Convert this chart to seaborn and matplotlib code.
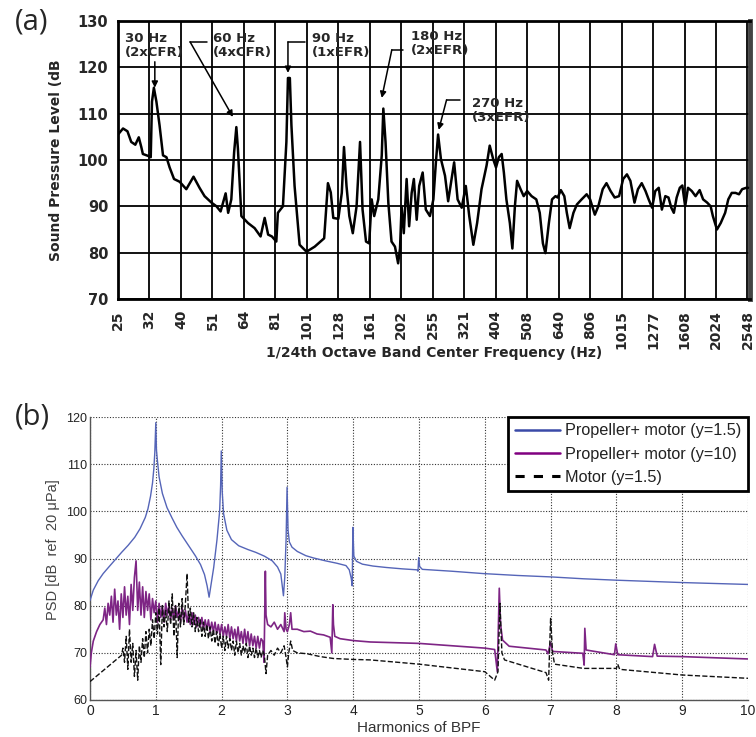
import numpy as np
import pandas as pd
import matplotlib
matplotlib.use("Agg")
import matplotlib.pyplot as plt
import seaborn as sns
from matplotlib.lines import Line2D

# ---------------- Panel (a) data ----------------
band_labels = ['25', '32', '40', '51', '64', '81', '101', '128', '161', '202', '255',
               '321', '404', '508', '640', '806', '1015', '1277', '1608', '2024', '2548']
spl_ticks = [70, 80, 90, 100, 110, 120, 130]

# position in 1/3-octave tick units (0 = 25 Hz, 20 = 2548 Hz)
a_pos = [0.00, 0.16, 0.30, 0.42, 0.55, 0.66, 0.74, 0.79, 0.95, 1.04,
         1.08, 1.14, 1.22, 1.32, 1.43, 1.54, 1.64, 1.78, 1.96, 2.17,
         2.40, 2.59, 2.75, 2.97, 3.13, 3.26, 3.42, 3.50, 3.60, 3.69,
         3.76, 3.81, 3.87, 3.92, 4.13, 4.34, 4.53, 4.66, 4.77, 4.89,
         5.03, 5.08, 5.24, 5.35, 5.40, 5.46, 5.51, 5.61, 5.77, 5.99,
         6.25, 6.55, 6.67, 6.76, 6.84, 7.00, 7.11, 7.18, 7.26, 7.35,
         7.46, 7.58, 7.69, 7.77, 7.88, 7.98, 8.06, 8.14, 8.27, 8.38,
         8.43, 8.50, 8.59, 8.69, 8.80, 8.90, 8.96, 9.01, 9.08, 9.17,
         9.25, 9.33, 9.40, 9.49, 9.57, 9.68, 9.78, 9.91, 10.02, 10.10,
         10.17, 10.26, 10.39, 10.49, 10.60, 10.68, 10.79, 10.92, 11.05, 11.16,
         11.29, 11.41, 11.55, 11.71, 11.81, 11.92, 12.01, 12.10, 12.19, 12.26,
         12.34, 12.45, 12.53, 12.61, 12.68, 12.79, 12.89, 13.00, 13.14, 13.29,
         13.40, 13.50, 13.58, 13.69, 13.79, 13.90, 13.97, 14.07, 14.18, 14.26,
         14.35, 14.47, 14.58, 14.73, 14.89, 15.00, 15.15, 15.26, 15.40, 15.52,
         15.65, 15.78, 15.92, 16.05, 16.17, 16.28, 16.41, 16.52, 16.64, 16.76,
         16.86, 16.97, 17.07, 17.18, 17.28, 17.39, 17.49, 17.58, 17.66, 17.75,
         17.85, 17.93, 18.02, 18.11, 18.23, 18.35, 18.48, 18.59, 18.72, 18.83,
         18.90, 19.03, 19.15, 19.29, 19.39, 19.50, 19.62, 19.73, 19.83, 19.96,
         20.02]
a_db = [105.5, 106.8, 106.2, 103.9, 103.3, 104.9, 102.8, 101.3, 100.9, 100.6,
        112.6, 115.6, 112.6, 107.5, 101.0, 100.6, 98.4, 95.9, 95.3, 93.7,
        96.4, 94.0, 92.2, 90.8, 90.0, 88.9, 92.8, 88.6, 91.5, 101.7,
        107.1, 102.4, 94.4, 87.9, 86.4, 85.3, 83.5, 87.5, 83.9, 83.5,
        82.4, 88.6, 90.0, 103.9, 117.7, 117.7, 107.5, 94.4, 81.7, 80.2,
        81.3, 83.1, 95.0, 93.0, 87.5, 87.3, 92.9, 102.8, 94.4, 87.9,
        84.2, 90.0, 103.9, 89.3, 82.4, 82.0, 91.5, 87.9, 91.5, 101.0,
        111.1, 103.9, 90.7, 82.4, 81.3, 77.7, 80.9, 90.0, 84.2, 95.9,
        85.7, 92.9, 95.9, 87.1, 94.4, 97.3, 89.3, 87.9, 91.5, 99.5,
        105.5, 100.2, 96.6, 91.1, 95.9, 99.5, 91.5, 89.7, 94.4, 87.9,
        81.7, 86.4, 93.7, 98.8, 103.1, 100.2, 98.4, 100.6, 101.3, 97.3,
        91.5, 86.4, 80.9, 90.0, 95.5, 93.7, 92.2, 93.3, 92.2, 91.5,
        88.6, 82.0, 79.9, 86.4, 91.5, 92.2, 91.9, 93.5, 92.2, 88.6,
        85.3, 88.6, 90.4, 91.5, 92.6, 91.5, 88.2, 90.0, 93.7, 95.0,
        93.3, 91.9, 92.2, 95.9, 96.9, 95.5, 90.8, 93.7, 95.0, 93.3,
        91.5, 89.7, 93.3, 94.0, 89.3, 92.2, 91.9, 89.7, 88.6, 91.9,
        94.0, 94.5, 90.0, 94.0, 93.3, 92.2, 93.5, 91.5, 90.8, 90.0,
        87.9, 85.0, 86.4, 88.6, 91.5, 92.9, 92.9, 92.6, 93.7, 94.0,
        94.0]

annot_texts = ['30 Hz\n(2xCFR)', '60 Hz\n(4xCFR)', '90 Hz\n(1xEFR)',
               '180 Hz\n(2xEFR)', '270 Hz\n(3xEFR)']

# ---------------- Panel (b) data ----------------
bpf_ticks = list(range(11))
psd_ticks = [60, 70, 80, 90, 100, 110, 120]

blue_x = [0.00, 0.05, 0.125, 0.20, 0.28, 0.38, 0.48, 0.58, 0.68, 0.76,
          0.84, 0.88, 0.92, 0.95, 0.97, 0.985, 1.00, 1.01, 1.025, 1.05,
          1.10, 1.17, 1.25, 1.32, 1.40, 1.50, 1.60, 1.68, 1.74, 1.78,
          1.81, 1.84, 1.88, 1.93, 1.97, 1.985, 1.995, 2.01, 2.03, 2.08,
          2.15, 2.26, 2.40, 2.52, 2.65, 2.77, 2.85, 2.90, 2.94, 2.96,
          2.98, 2.995, 3.01, 3.03, 3.07, 3.15, 3.28, 3.40, 3.58, 3.75,
          3.89, 3.94, 3.97, 3.985, 3.995, 4.01, 4.05, 4.14, 4.30, 4.50,
          4.75, 4.97, 4.985, 4.995, 5.01, 5.05, 5.50, 5.98, 6.50, 7.00,
          7.50, 8.00, 9.00, 10.00]
blue_y = [81.1, 83.3, 85.3, 86.8, 88.1, 89.7, 91.3, 92.8, 94.5, 96.3,
          98.7, 100.5, 103.2, 106.0, 109.0, 112.5, 118.8, 113.0, 110.7, 107.3,
          103.8, 100.8, 98.5, 96.6, 94.8, 92.7, 90.6, 88.7, 86.6, 84.2,
          81.8, 84.5, 88.1, 94.0, 100.0, 105.5, 112.8, 104.0, 99.5, 96.0,
          94.0, 92.7, 91.9, 91.3, 90.5, 89.5, 88.2, 86.7, 82.1, 86.0,
          94.0, 105.1, 96.0, 93.5, 92.4, 91.5, 90.6, 90.1, 89.5, 89.0,
          88.5, 87.6, 85.8, 84.2, 96.6, 90.5, 89.4, 88.8, 88.4, 88.1,
          87.8, 87.6, 87.3, 90.2, 88.3, 87.7, 87.3, 86.8, 86.4, 86.1,
          85.7, 85.4, 84.9, 84.5]

purple_head_x = [0.00, 0.02, 0.05, 0.10, 0.15]
purple_head_y = [67.0, 70.0, 72.5, 74.5, 76.0]
purple_noise_start, purple_noise_step = 0.20, 0.025
purple_noise_y = [77.0, 79.5, 76.0, 80.5, 78.0, 82.0, 76.5, 83.5, 78.0, 81.0,
                  75.0, 82.5, 77.5, 84.0, 78.0, 82.0, 76.0, 84.5, 79.0, 86.0,
                  89.5, 79.0, 85.0, 78.0, 84.0, 77.5, 83.0, 79.0, 82.5, 77.0,
                  81.5, 78.5, 81.0, 76.5, 80.5, 77.5, 80.0, 76.5, 80.5, 78.0,
                  80.0, 77.0, 79.5, 77.0, 80.0, 77.5, 79.0, 76.5, 79.5, 77.0,
                  79.0, 76.5, 78.5, 76.0, 78.5, 76.0, 78.0, 75.5, 77.5, 75.5,
                  77.5, 75.0, 77.0, 75.0, 77.0, 74.5, 76.5, 74.5, 76.5, 74.0,
                  76.0, 74.0, 76.0, 73.5, 75.5, 73.5, 76.0, 73.0, 75.5, 73.0,
                  75.0, 72.5, 75.5, 72.5, 74.5, 72.0, 75.0, 72.0, 74.5, 71.5,
                  74.0, 71.5, 73.5, 71.0, 73.5, 71.0, 73.0]
purple_tail_x = [2.625, 2.645, 2.665, 2.675, 2.70, 2.75, 2.80, 2.85, 2.90, 2.95,
                 2.96, 2.98, 3.00, 3.03, 3.05, 3.07, 3.15, 3.25, 3.35, 3.45,
                 3.55, 3.65, 3.675, 3.69, 3.70, 3.72, 3.80, 4.00, 4.26, 5.00,
                 6.00, 6.15, 6.19, 6.22, 6.24, 6.27, 6.37, 6.93, 6.96, 7.00,
                 7.03, 7.49, 7.51, 7.52, 7.54, 7.97, 7.99, 8.02, 8.55, 8.58,
                 8.62, 9.00, 10.00]
purple_tail_y = [72.5, 68.0, 87.3, 78.0, 76.0, 75.5, 76.5, 75.0, 76.0, 74.5,
                 78.5, 75.0, 74.5, 76.0, 78.5, 75.0, 75.0, 74.5, 74.6, 74.0,
                 73.8, 73.3, 70.0, 80.2, 76.0, 73.5, 73.0, 72.6, 72.3, 72.0,
                 71.0, 70.7, 66.0, 83.7, 76.0, 72.7, 71.4, 70.6, 69.8, 72.2,
                 70.3, 69.9, 67.4, 75.2, 70.6, 69.6, 71.9, 69.6, 69.2, 71.8,
                 69.3, 69.2, 68.7]

motor_head_x = [0.00, 0.48]
motor_head_y = [63.9, 69.5]
motor_noise_start, motor_noise_step = 0.50, 0.025
motor_noise_y = [71.0, 68.0, 73.5, 66.5, 75.0, 68.0, 72.0, 65.0, 70.5, 64.2,
                 71.5, 68.0, 73.0, 69.0, 74.5, 70.0, 75.0, 71.5, 77.0, 73.0,
                 78.5, 74.0, 79.5, 67.5, 80.0, 75.5, 79.0, 74.5, 81.0, 76.0,
                 82.5, 73.5, 80.0, 69.0, 80.5, 75.5, 81.5, 76.0, 80.5, 86.8,
                 76.5, 79.5, 75.5, 78.5, 74.5, 77.5, 74.5, 77.0, 73.5, 76.5,
                 73.5, 76.0, 73.0, 75.5, 72.5, 75.0, 72.0, 74.5, 71.5, 74.0,
                 71.0, 73.5, 70.5, 73.5, 71.0, 73.0, 70.5, 72.5, 69.5, 72.5,
                 70.0, 72.0, 69.5, 71.5, 70.0, 72.0, 69.0, 71.5, 69.5, 71.0,
                 69.0, 71.0, 69.0, 70.5, 69.0, 70.5, 69.5]
motor_tail_x = [2.675, 2.70, 2.75, 2.80, 2.85, 2.90, 2.95, 2.98, 3.00, 3.02,
                3.05, 3.08, 3.15, 3.30, 3.50, 3.70, 4.00, 4.26, 5.00, 6.00,
                6.15, 6.20, 6.23, 6.26, 6.30, 6.93, 6.97, 7.00, 7.03, 7.06,
                7.50, 8.00, 8.02, 8.05, 9.00, 10.00]
motor_tail_y = [65.6, 69.5, 70.5, 69.5, 71.0, 70.0, 71.5, 69.0, 67.0, 70.0,
                72.5, 70.5, 70.0, 69.8, 69.2, 68.8, 68.6, 68.5, 67.6, 66.0,
                64.2, 66.0, 80.5, 70.0, 68.5, 65.8, 64.2, 77.3, 70.0, 67.6,
                66.7, 66.7, 67.6, 66.5, 65.3, 64.6]

series_names = ['Propeller+ motor (y=1.5)', 'Propeller+ motor (y=10)', 'Motor (y=1.5)']

# ---------------- Figure ----------------
sns.set_theme(style='white')
plt.rcParams['font.family'] = ['DejaVu Sans']
W, H = 756, 737
fig = plt.figure(figsize=(W / 100, H / 100), dpi=100)

# ---- Panel (a) ----
axa = fig.add_axes([118 / W, 1 - 299 / H, 632 / W, 278 / H])
df_a = pd.DataFrame({'pos': a_pos, 'db': a_db})
sns.lineplot(data=df_a, x='pos', y='db', ax=axa, color='black', lw=1.8,
             sort=False, estimator=None, errorbar=None, zorder=3)
axa.set_xlim(0, 20.08)
axa.set_ylim(70, 130)
axa.set_xticks(range(len(band_labels)))
axa.set_xticklabels(band_labels, rotation=90, fontweight='bold', fontsize=10)
axa.set_yticks(spl_ticks)
axa.set_yticklabels([str(v) for v in spl_ticks], fontweight='bold', fontsize=10.5)
axa.grid(True, color='black', lw=1.3)
axa.set_axisbelow(True)
axa.tick_params(axis='x', length=0, pad=8)
axa.tick_params(axis='y', length=0, pad=7)
for s in ['left', 'bottom', 'top']:
    axa.spines[s].set_color('black')
    axa.spines[s].set_linewidth(2)
axa.spines['right'].set_color('#444444')
axa.spines['right'].set_linewidth(3.5)
axa.set_xlabel('1/24th Octave Band Center Frequency (Hz)', fontweight='bold', fontsize=10)
axa.xaxis.set_label_coords(0.5, -0.17)
axa.set_ylabel('Sound Pressure Level (dB', fontweight='bold', fontsize=10)
axa.yaxis.set_label_coords(-0.087, 0.5)

annot_xy = [(0.22, 127.7), (3.02, 127.7), (6.16, 127.7), (9.30, 128.1), (11.24, 113.6)]
annot_paths = [
    [(1.17, 121.2), (1.17, 115.6)],
    [(2.83, 125.5), (2.29, 125.5), (3.65, 109.3)],
    [(5.94, 125.5), (5.40, 125.5), (5.40, 118.8)],
    [(9.05, 123.8), (8.70, 123.8), (8.38, 113.4)],
    [(10.86, 113.0), (10.44, 113.0), (10.19, 106.5)],
]
for txt, (tx, ty), path in zip(annot_texts, annot_xy, annot_paths):
    axa.text(tx, ty, txt, ha='left', va='top', fontsize=9.5, fontweight='bold',
             linespacing=1.15, zorder=5)
    if len(path) > 2:
        xs = [p[0] for p in path[:-1]]
        ys = [p[1] for p in path[:-1]]
        axa.plot(xs, ys, color='black', lw=1.1, zorder=5)
    axa.annotate('', xy=path[-1], xytext=path[-2],
                 arrowprops=dict(arrowstyle='-|>', color='black', lw=1.1,
                                 mutation_scale=9, shrinkA=0, shrinkB=0), zorder=5)

fig.text(32 / W, 1 - 22 / H, '(a)', fontsize=21, family='Open Sans',
         ha='center', va='center')

# ---- Panel (b) ----
narrow = ['Liberation Sans Narrow', 'Liberation Sans', 'DejaVu Sans']
axb = fig.add_axes([90 / W, 1 - 700 / H, 658 / W, 283 / H])

purple_noise_x = list(purple_noise_start + purple_noise_step * np.arange(len(purple_noise_y)))
motor_noise_x = list(motor_noise_start + motor_noise_step * np.arange(len(motor_noise_y)))
df_blue = pd.DataFrame({'x': blue_x, 'y': blue_y})
df_purple = pd.DataFrame({'x': purple_head_x + purple_noise_x + purple_tail_x,
                          'y': purple_head_y + purple_noise_y + purple_tail_y})
df_motor = pd.DataFrame({'x': motor_head_x + motor_noise_x + motor_tail_x,
                         'y': motor_head_y + motor_noise_y + motor_tail_y})

c_blue, c_purple, c_black = '#5565b8', '#7e2585', '#111111'
sns.lineplot(data=df_purple, x='x', y='y', ax=axb, color=c_purple, lw=1.2,
             sort=False, estimator=None, errorbar=None, zorder=3)
sns.lineplot(data=df_motor, x='x', y='y', ax=axb, color=c_black, lw=1.0,
             linestyle='--', sort=False, estimator=None, errorbar=None, zorder=4)
sns.lineplot(data=df_blue, x='x', y='y', ax=axb, color=c_blue, lw=1.0,
             sort=False, estimator=None, errorbar=None, zorder=5)

axb.set_xlim(0, 10)
axb.set_ylim(60, 120)
axb.set_xticks(bpf_ticks)
axb.set_xticklabels([str(v) for v in bpf_ticks], family=narrow, fontsize=10, color='#222222')
axb.set_yticks(psd_ticks)
axb.set_yticklabels([str(v) for v in psd_ticks], family=narrow, fontsize=9, color='#222222')
axb.grid(True, color='#333333', lw=0.8, linestyle=(0, (1, 1.5)))
axb.tick_params(axis='both', direction='in', length=4, width=0.8, color='#555555', pad=3)
axb.tick_params(axis='y', pad=2)
axb.spines['top'].set_visible(False)
axb.spines['right'].set_visible(False)
for s in ['left', 'bottom']:
    axb.spines[s].set_color('#555555')
    axb.spines[s].set_linewidth(1.0)
axb.set_xlabel('Harmonics of BPF', family=narrow, fontsize=11, color='#333333')
axb.xaxis.set_label_coords(0.5, -0.075)
axb.set_ylabel('PSD [dB  ref  20 \u03bcPa]', family=narrow, fontsize=10.5, color='#444444')
axb.yaxis.set_label_coords(-0.045, 0.53)

handles = [Line2D([], [], color='#3a4aa8', lw=1.8),
           Line2D([], [], color='#800080', lw=1.8),
           Line2D([], [], color='black', lw=2.2, linestyle=(0, (3, 3)))]
leg = axb.legend(handles, series_names, loc='upper right', frameon=True, fancybox=False,
                 edgecolor='black', prop={'family': narrow, 'size': 11.7},
                 handlelength=2.8, handletextpad=0.3, borderaxespad=0.0,
                 borderpad=0.4, labelspacing=0.5, framealpha=1)
leg.get_frame().set_linewidth(2)
for t in leg.get_texts():
    t.set_color('#222222')

fig.text(32 / W, 1 - 417 / H, '(b)', fontsize=21, family='Open Sans',
         ha='center', va='center')

fig.savefig('out.png', dpi=100, facecolor='white')
